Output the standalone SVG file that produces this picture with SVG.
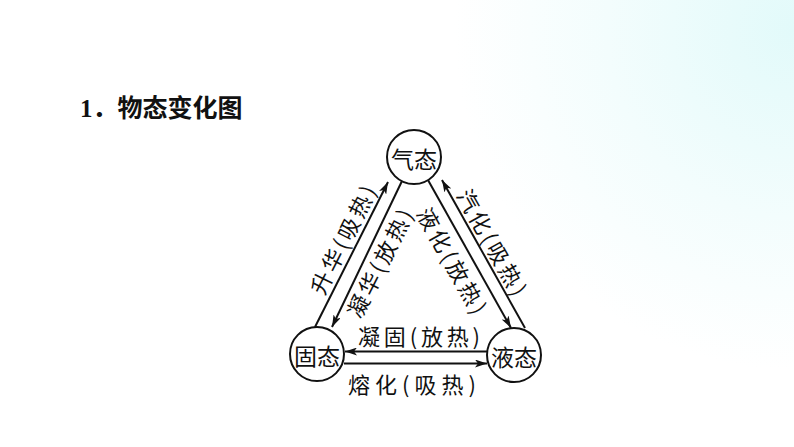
<svg xmlns="http://www.w3.org/2000/svg" width="794" height="447" viewBox="0 0 794 447">
<defs>
<radialGradient id="bg" cx="794" cy="30" r="340" gradientUnits="userSpaceOnUse">
<stop offset="0" stop-color="#e2fafa"/>
<stop offset="0.55" stop-color="#f3fdfd"/>
<stop offset="1" stop-color="#ffffff"/>
</radialGradient>
<marker id="ah" viewBox="0 0 12 8" refX="12" refY="4" markerWidth="12" markerHeight="8" markerUnits="userSpaceOnUse" orient="auto">
<path d="M0,0 L12,4 L0,8 L3,4 Z" fill="#111"/>
</marker>
<style>
.node circle{fill:#fff;stroke:#111;stroke-width:2}
.node text{font-family:"Noto Sans CJK SC",sans-serif;font-size:23px;fill:#111;text-anchor:middle;dominant-baseline:central}
.edge line{stroke:#111;stroke-width:2;marker-end:url(#ah)}
.lbl{font-family:"Noto Sans CJK SC",sans-serif;font-size:22px;fill:#111;text-anchor:middle;dominant-baseline:central}
.title{font-family:"Liberation Serif","Noto Sans CJK SC",serif;font-size:25px;font-weight:bold;fill:#111}
</style>
</defs>
<rect width="794" height="447" fill="url(#bg)"/>
<text class="title" x="80" y="117">1<tspan font-family="Noto Sans CJK SC, sans-serif">．物态变化图</tspan></text>
<g id="connectors" class="edge">
<line x1="315" y1="327" x2="388" y2="182"/>
<line x1="402" y1="181" x2="332" y2="327"/>
<line x1="428" y1="180" x2="511" y2="328"/>
<line x1="525" y1="328" x2="442" y2="180"/>
<line x1="487" y1="351.5" x2="345" y2="351.5"/>
<line x1="344" y1="363.5" x2="487" y2="363.5"/>
</g>
<g id="labels">
<text class="lbl" x="341.7" y="239" textLength="118" lengthAdjust="spacing" transform="rotate(-63.3 341.7 239)">升华(吸热)</text>
<text class="lbl" x="378.3" y="262.5" textLength="118" lengthAdjust="spacing" transform="rotate(-63.3 378.3 262.5)">凝华(放热)</text>
<text class="lbl" x="453.3" y="260" textLength="118" lengthAdjust="spacing" transform="rotate(60.7 453.3 260)">液化(放热)</text>
<text class="lbl" x="493.3" y="241.7" textLength="118" lengthAdjust="spacing" transform="rotate(60.7 493.3 241.7)">汽化(吸热)</text>
<text class="lbl" x="419" y="335" textLength="122" lengthAdjust="spacing">凝固(放热)</text>
<text class="lbl" x="412" y="383" textLength="128" lengthAdjust="spacing">熔化(吸热)</text>
</g>
<g id="node-gas" class="node"><circle cx="414" cy="157" r="27"/><text x="414" y="158">气态</text></g>
<g id="node-solid" class="node"><circle cx="317" cy="354" r="27"/><text x="317" y="355">固态</text></g>
<g id="node-liquid" class="node"><circle cx="514" cy="355" r="27"/><text x="514" y="356">液态</text></g>
</svg>
